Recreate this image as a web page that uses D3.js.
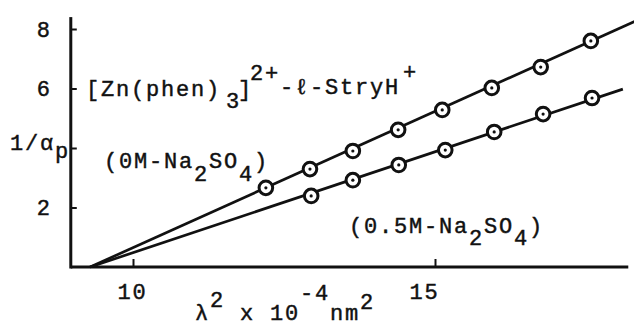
<!DOCTYPE html>
<html>
<head>
<meta charset="utf-8">
<script src="https://cdn.jsdelivr.net/npm/d3@7"></script>
<style>
    body { margin: 0; background: #fff; }
    svg { display: block; }
    text {
        font-family: "Liberation Mono", "DejaVu Sans Mono", monospace;
        font-size: 22px;
        letter-spacing: 1.8px;
        fill: #111;
        stroke: #111;
        stroke-width: 0.45px;
    }
</style>
</head>
<body>
<svg id="chart" width="634" height="325"></svg>
<script>
// 0M Na2SO4 (upper line)
const xNoSalt = [12.20, 12.93, 13.64, 14.39, 15.12, 15.94, 16.75, 17.58];
const yNoSalt = [2.66, 3.29, 3.90, 4.61, 5.28, 6.02, 6.72, 7.60];
// 0.5M Na2SO4 (lower line)
const xSalt = [12.95, 13.64, 14.40, 15.17, 15.98, 16.79, 17.60];
const ySalt = [2.39, 2.92, 3.43, 3.93, 4.54, 5.14, 5.68];

// fitted lines share the intercept on the x axis
const fitStartX = 9.29;
const fitEndNoSalt = [18.32, 8.27];
const fitEndSalt = [18.11, 5.98];

const xTicks = [10, 15];
const yTicks = [2, 4, 6, 8];
const yTickLabels = ["2", "", "6", "8"];
const xAxisExtent = [8.97, 18.2];
const yAxisExtent = [0, 8.4];

const svg = d3.select("#chart");

let x = d3.scaleLinear().domain([10, 15]).range([133, 435]);
let y = d3.scaleLinear().domain([0, 8]).range([267, 29]);

// axis lines drawn by hand, they run past the tick range
svg.append("line")
    .attr("x1", x(xAxisExtent[0])).attr("x2", x(xAxisExtent[1]))
    .attr("y1", y(0)).attr("y2", y(0))
    .attr("stroke", "#111").attr("stroke-width", 3);
svg.append("line")
    .attr("x1", x(xAxisExtent[0])).attr("x2", x(xAxisExtent[0]))
    .attr("y1", y(yAxisExtent[0]) + 1.5).attr("y2", y(yAxisExtent[1]))
    .attr("stroke", "#111").attr("stroke-width", 3);

let xAxis = d3.axisBottom(x)
    .tickValues(xTicks)
    .tickSizeInner(-8)
    .tickSizeOuter(0)
    .tickPadding(16)
    .tickFormat(d3.format("d"));

let gx = svg.append("g")
    .attr("transform", "translate(0," + y(0) + ")")
    .call(xAxis);
gx.select(".domain").remove();
gx.selectAll(".tick line").attr("stroke", "#111").attr("stroke-width", 2);
gx.selectAll(".tick text").attr("dx", d => d === 15 ? -11 : -1);

let yAxis = d3.axisLeft(y)
    .tickValues(yTicks)
    .tickSizeInner(-6)
    .tickSizeOuter(0)
    .tickPadding(19)
    .tickFormat((d, i) => yTickLabels[i]);

let gy = svg.append("g")
    .attr("transform", "translate(" + x(xAxisExtent[0]) + ",0)")
    .call(yAxis);
gy.select(".domain").remove();
gy.selectAll(".tick line").attr("stroke", "#111").attr("stroke-width", 2);

// fitted lines
let fits = [fitEndNoSalt, fitEndSalt];
svg.selectAll("line.fit")
    .data(fits)
    .enter().append("line")
    .classed("fit", true)
    .attr("x1", x(fitStartX))
    .attr("y1", y(0))
    .attr("x2", d => x(d[0]))
    .attr("y2", d => y(d[1]))
    .attr("stroke", "#111")
    .attr("stroke-width", 2.7);

// points: open circle with a dot in the middle
let points = xNoSalt.map((v, i) => [v, yNoSalt[i]])
    .concat(xSalt.map((v, i) => [v, ySalt[i]]));

let marks = svg.selectAll("g.mark")
    .data(points)
    .enter().append("g")
    .classed("mark", true)
    .attr("transform", d => "translate(" + x(d[0]) + "," + y(d[1]) + ")");
marks.append("circle")
    .attr("r", 6.8)
    .attr("fill", "#fff")
    .attr("stroke", "#111")
    .attr("stroke-width", 3);
marks.append("circle")
    .attr("r", 1.6)
    .attr("fill", "#111");

// typewriter style text: pieces shifted up / down, same size as the line
function typeText(px, py, pieces) {
    let t = svg.append("text").attr("x", px).attr("y", py);
    let cur = 0;
    for (let p of pieces) {
        let sp = t.append("tspan").attr("dy", p[1] - cur).text(p[0]);
        if (p[2]) sp.attr("dx", p[2]);
        cur = p[1];
    }
    return t;
}

typeText(86, 96, [["[Zn(phen)", 0], ["3", 12, 5], ["]", 0, -3], ["2+", -16, -3], ["-ℓ-StryH", -2], ["+", -17, 3]]);
typeText(104, 168, [["(0M-Na", 0], ["2", 13], ["SO", 0], ["4", 13], [")", 0]]);
typeText(349, 233, [["(0.5M-Na", 0], ["2", 12], ["SO", 0], ["4", 12], [")", 0]]);

// axis titles
typeText(10, 150, [["1/α", 0], ["p", 8]]);
typeText(195, 320, [["λ", 0], ["2", -13], [" x 10", 0], ["-4", -20], ["nm", 0], ["2", -11]]);
</script>
</body>
</html>
